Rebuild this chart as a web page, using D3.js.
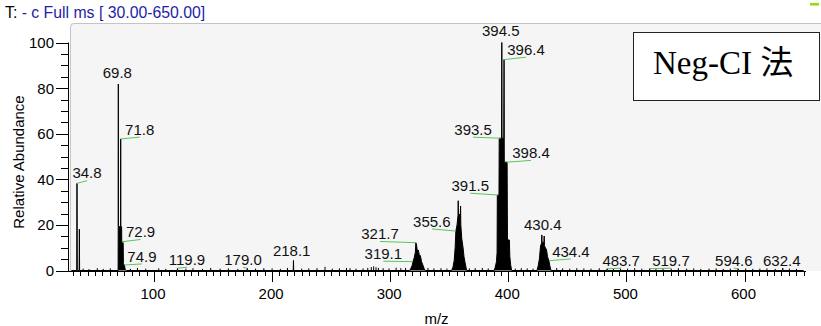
<!DOCTYPE html>
<html><head><meta charset="utf-8">
<script src="https://cdn.jsdelivr.net/npm/d3@7"></script>
<style>
body{margin:0;background:#fff}
svg{display:block}
text{font-family:"Liberation Sans",Arial,sans-serif}
</style>
</head><body>
<svg id="c" width="821" height="326"></svg>
<script>
// ---------- data ----------
const titleBlack = "T:";
const titleBlue = " - c Full ms [ 30.00-650.00]";
const xTickValues = [100, 200, 300, 400, 500, 600];
const yTickValues = [0, 20, 40, 60, 80, 100];
const xAxisTitle = "m/z";
const yAxisTitle = "Relative Abundance";
const legendText = "Neg-CI 法";

// profile spectrum: [m/z, relative abundance]
const spectrum = [
  [30,0],[34.6,0],[34.8,38.2],[35.0,0],[36.6,0],[36.8,18.1],[37.0,0],
  [69.6,0],[69.7,19.2],[69.8,81.8],[69.9,19.2],[71.7,19.2],[71.8,57.7],[71.9,19.2],
  [72.6,19.2],[72.7,12.2],[73.9,12.2],[74.1,3],[74.9,2.4],[75.6,0.5],[76.5,0],
  [119.7,0],[119.9,1.0],[120.1,0],[178.8,0],[179.0,1.0],[179.2,0],
  [217.9,0],[218.1,4.4],[218.3,0],
  [316.5,0],[317.5,1],[318.5,2],[319.3,3.9],[320.3,5.5],[321.3,8],[321.7,12.2],[322.3,11.2],
  [323.0,8.5],[323.8,9],[324.6,7],[325.6,6.4],[326.5,4],[327.6,2.5],[328.6,1],[329.6,0],
  [352.0,0],[353.2,1.5],[354.2,4.5],[355.0,10],[355.6,17.3],[356.6,20],[357.4,24],[357.6,30.6],
  [357.8,24],[359.4,25],[359.6,28.3],[359.8,20],[360.6,14],[361.6,10.4],[362.5,6],[363.4,3.5],[364.7,0],
  [388.0,0],[389.0,1.5],[390.0,4],[390.5,8],[390.7,33.1],[392.1,33.1],[392.3,58],[394.3,58],
  [394.5,100],[394.7,58],[396.2,58],[396.4,92.5],[396.6,47.5],[399.0,47.5],[399.3,13.4],
  [400.9,13.4],[401.3,6],[402.0,2.5],[402.8,0],
  [424.3,0],[425.3,2],[426.3,5],[427.3,10.7],[428.2,12],[428.4,15.6],[428.6,12],[430.2,12.5],
  [430.4,15.1],[430.6,11],[431.4,10],[432.4,9],[433.2,6],[434.4,4.3],[435.2,2],[436.2,0],
  [483.5,0],[483.7,0.8],[483.9,0],[519.5,0],[519.7,0.8],[519.9,0],
  [594.4,0],[594.6,0.8],[594.8,0],[632.2,0],[632.4,1.0],[632.6,0],[650,0]
];

// baseline noise sticks: [m/z, relative abundance]
const noise = [
  [40,0.6],[45,0.4],[52,0.8],[57,0.5],[63,0.7],[80,0.5],[86,0.9],[93,0.6],[104,0.7],[110,0.5],
  [127,0.6],[133,0.8],[141,0.5],[148,0.9],[156,0.6],[163,0.7],[171,0.5],[186,0.6],[193,0.8],[200,0.7],
  [207,0.5],[213,0.9],[225,0.6],[231,0.7],[238,0.8],[244.8,1.4],[251,0.6],[257,0.7],[263,0.9],[266,0.8],
  [271,0.6],[277,0.7],[281,0.9],[284,1.3],[286,1.6],[288,1.2],[290,0.9],[294,0.8],[299,0.7],[305,1.0],
  [309,0.8],[313,0.9],[332,0.9],[337,0.7],[343,0.8],[348,0.6],[367,0.7],[372,0.8],[378,0.9],[383,0.7],
  [406,0.6],[411,0.8],[416,0.7],[421,0.6],[441,0.9],[446,0.7],[452,0.6],[458,0.8],[464,0.7],[470,0.6],
  [477,0.8],[489,0.6],[495,0.7],[501,0.6],[507,0.8],[513,0.6],[525,0.5],[531,0.7],[538,0.6],[544,0.8],
  [551,0.6],[557,0.7],[563,0.5],[570,0.6],[576,0.7],[582,0.5],[588,0.6],[601,0.7],[607,0.5],[613,0.6],
  [619,0.7],[626,0.5],[638,0.6],[644,0.5]
];

// peak labels
const labelMz =    [34.8, 69.8, 71.8, 72.9, 74.9, 119.9, 179.0, 218.1, 319.1, 321.7, 355.6,
                    391.5, 393.5, 394.5, 396.4, 398.4, 430.4, 434.4, 483.7, 519.7, 594.6, 632.4];
const labelAbund = [38.2, 81.8, 57.7, 12.6, 2.4, 1.0, 1.0, 4.4, 3.9, 12.2, 17.3,
                    33.1, 58.0, 100, 92.5, 47.5, 15.1, 4.3, 0.8, 0.8, 0.8, 1.0];

// ---------- layout (pixels) ----------
// label text offset from the peak point [dx, dy], and whether a leader is drawn
const labelLayout = [
  [10,-5,1],[-1,-6,0],[19,-4,1],[18.6,-4.5,1],[17.6,-3.3,1],[9.5,-3.2,1],[-4.3,-3,1],[-1.8,-4.5,0],
  [-29.4,-2.6,1],[-35.8,-3.4,1],[-24,-4.3,1],[-28,-4,1],[-27.5,-3.3,1],[-1,-6.5,0],[22,-4.6,1],
  [24.6,-4,1],[-1.4,-6,0],[22,-4,1],[14,-2.7,1],[21.3,-2.7,1],[-4.3,-2.7,1],[-1,-2,0]
];

const svg = d3.select("#c");
const W = 821, H = 326;
const pxPerUnit = 1.181;
const x = d3.scaleLinear().domain([30, 650]).range([154 - 70*pxPerUnit, 154 + 550*pxPerUnit]);
const y = d3.scaleLinear().domain([0, 100]).range([270.5, 42.5]);

// panel background
svg.append("rect").attr("x",70).attr("y",23).attr("width",W-70).attr("height",248).attr("fill","#f5f5f5");
svg.append("path").attr("d","M70.5,271 L70.5,27 Q70.5,23.5 74,23.5 L821,23.5")
   .attr("fill","none").attr("stroke","#c4c4c4").attr("stroke-width",1);

// title
const t = svg.append("text").attr("x",5).attr("y",18).attr("font-size",15.8);
t.append("tspan").attr("fill","#000").text(titleBlack);
t.append("tspan").attr("fill","#1e1ea6").text(titleBlue);

// green marker top right
svg.append("rect").attr("x",810).attr("y",3).attr("width",9).attr("height",2.5).attr("fill","#8ee000");

// spectrum
const area = d3.area().x(d=>x(d[0])).y0(y(0)).y1(d=>y(d[1]));
const line = d3.line().x(d=>x(d[0])).y(d=>y(d[1]));
svg.append("path").datum(spectrum).attr("d",area).attr("fill","#000");
svg.append("path").datum(spectrum).attr("d",line).attr("fill","none")
   .attr("stroke","#000").attr("stroke-width",1).attr("stroke-linejoin","round");
svg.append("g").selectAll("line").data(noise).join("line")
   .attr("x1",d=>x(d[0])).attr("x2",d=>x(d[0]))
   .attr("y1",y(0)).attr("y2",d=>y(d[1])-0.5)
   .attr("stroke","#000").attr("stroke-width",1);

// axes
const axisG = svg.append("g");
axisG.append("line").attr("x1",68.5).attr("x2",68.5).attr("y1",y(100)).attr("y2",272)
   .attr("stroke","#000");
axisG.append("line").attr("x1",68).attr("x2",806).attr("y1",271.5).attr("y2",271.5)
   .attr("stroke","#000");

const yMinor = d3.range(0, 101, 5);
axisG.selectAll(".ym").data(yMinor).join("line")
   .attr("x1",d=> yTickValues.includes(d) ? 56 : 61).attr("x2",68.5)
   .attr("y1",d=>Math.round(y(d))+0.5).attr("y2",d=>Math.round(y(d))+0.5)
   .attr("stroke","#000");
axisG.selectAll(".yl").data(yTickValues).join("text")
   .attr("x",54).attr("y",d=>y(d)).attr("dy","0.36em")
   .attr("text-anchor","end").attr("font-size",15).attr("fill","#000").text(d=>d);

const xMinor = d3.range(100 - 6.25*11, 650.01, 6.25);
axisG.selectAll(".xm").data(xMinor).join("line")
   .attr("x1",d=>Math.round(x(d))+0.5).attr("x2",d=>Math.round(x(d))+0.5)
   .attr("y1",271.5).attr("y2",d=> xTickValues.includes(d) ? 282 : 276)
   .attr("stroke","#000");
axisG.selectAll(".xl").data(xTickValues).join("text")
   .attr("x",d=>x(d)-1).attr("y",298.5)
   .attr("text-anchor","middle").attr("font-size",15).attr("fill","#000").text(d=>d);

svg.append("text").attr("x",436.5).attr("y",324).attr("text-anchor","middle")
   .attr("font-size",15).text(xAxisTitle);
svg.append("text").attr("transform","translate(24,162) rotate(-90)")
   .attr("text-anchor","middle").attr("font-size",15).text(yAxisTitle);

// peak labels
const lab = svg.append("g");
labelMz.forEach((m,i)=>{
  const px = x(m), py = y(labelAbund[i]);
  const [dx, dy, leader] = labelLayout[i];
  const cx = px + dx, by = py + dy;
  if (leader) {
    lab.append("line").attr("x1",cx).attr("y1",by+2.2).attr("x2",px).attr("y2",py)
       .attr("stroke","#5cc45c").attr("stroke-width",1);
  }
  lab.append("text").attr("x",cx).attr("y",by).attr("text-anchor","middle")
     .attr("font-size",15).attr("fill","#111").text(m.toFixed(1));
});

// legend box
svg.append("rect").attr("x",633.5).attr("y",32.5).attr("width",186).attr("height",68)
   .attr("fill","#fff").attr("stroke","#222").attr("stroke-width",1);
svg.append("text").attr("x",653).attr("y",74).attr("font-size",33)
   .style("font-family","'Liberation Serif','Times New Roman','Noto Sans CJK JP',serif")
   .attr("fill","#000").text(legendText);
</script>
</body></html>
